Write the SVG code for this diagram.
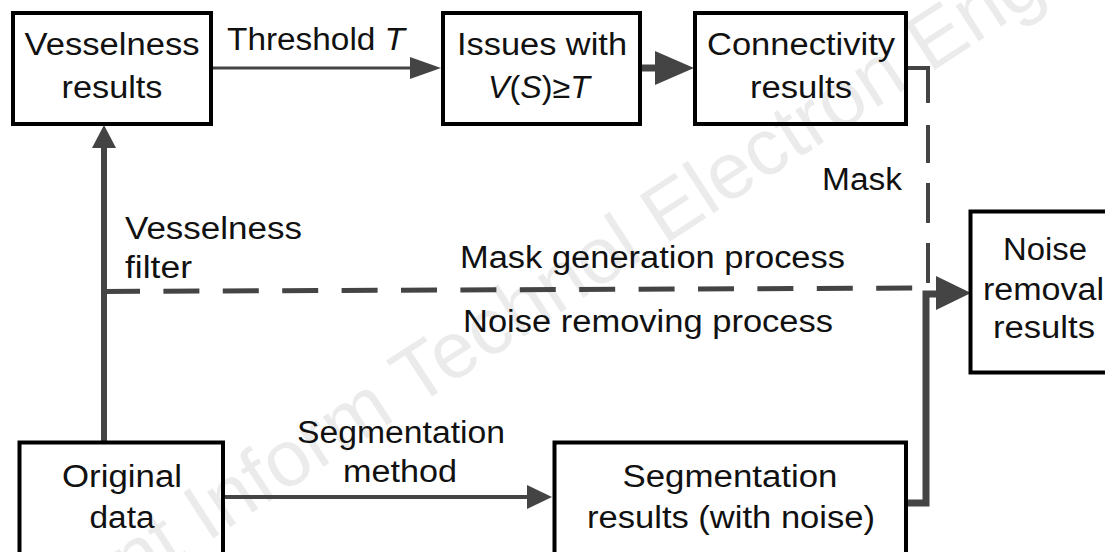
<svg xmlns="http://www.w3.org/2000/svg" width="1105" height="552" viewBox="0 0 1105 552">
<style>
.box{fill:none;stroke:#000;stroke-width:4}
.t{font-family:"Liberation Sans",Arial,sans-serif;font-size:31px;fill:#111}
.m{text-anchor:middle}
.c{fill:none;stroke:#444;stroke-linejoin:miter}
.h{fill:#444;stroke:none}
.wm{font-family:"Liberation Sans",Arial,sans-serif;font-size:80px;fill:#000;fill-opacity:0.08}
</style>
<rect width="1105" height="552" fill="#fff"/>
<text class="wm" text-anchor="middle" x="514" y="343" transform="rotate(-33 514 343)">J Front Inform Technol Electron Eng</text>
<g id="connectors">
<path class="c" d="M211,68 H414" stroke-width="3"/>
<polygon class="h" points="410,57 441,68 410,79"/>
<path class="c" d="M640,68 H660" stroke-width="7"/>
<polygon class="h" points="655,51 694,68 655,85"/>
<path class="c" d="M906,68 H928 V290" stroke-width="4" stroke-dasharray="57 22 38 20 40 20 40"/>
<path class="c" d="M104,291.5 L917,288" stroke-width="5" stroke-dasharray="36 23.4"/>
<path class="c" d="M104,442 V145" stroke-width="6"/>
<polygon class="h" points="92,148 104,125 116,148"/>
<path class="c" d="M223,497 H530" stroke-width="4"/>
<polygon class="h" points="527,485 552,497 527,509"/>
<path class="c" d="M906,503 H926 V294 H945" stroke-width="7"/>
<polygon class="h" points="936,276 971,293 936,310"/>
</g>
<g id="vesselness-results">
<rect class="box" x="13" y="13" width="198" height="111"/>
<text class="t m" x="112" y="55" textLength="175" lengthAdjust="spacingAndGlyphs">Vesselness</text>
<text class="t m" x="112" y="98" textLength="101" lengthAdjust="spacingAndGlyphs">results</text>
</g>
<g id="label-threshold">
<text class="t" x="227" y="50" textLength="178" lengthAdjust="spacingAndGlyphs">Threshold <tspan font-style="italic">T</tspan></text>
</g>
<g id="issues">
<rect class="box" x="443" y="13" width="197" height="111"/>
<text class="t m" x="542" y="55" textLength="170" lengthAdjust="spacingAndGlyphs">Issues with</text>
<text class="t m" x="539" y="98" textLength="102" lengthAdjust="spacingAndGlyphs"><tspan font-style="italic">V</tspan>(<tspan font-style="italic">S</tspan>)≥<tspan font-style="italic">T</tspan></text>
</g>
<g id="connectivity">
<rect class="box" x="695" y="13" width="211" height="111"/>
<text class="t m" x="801" y="55" textLength="188" lengthAdjust="spacingAndGlyphs">Connectivity</text>
<text class="t m" x="801" y="98" textLength="102" lengthAdjust="spacingAndGlyphs">results</text>
</g>
<g id="labels">
<text class="t" x="822" y="190" textLength="80" lengthAdjust="spacingAndGlyphs">Mask</text>
<text class="t" x="125" y="239" textLength="177" lengthAdjust="spacingAndGlyphs">Vesselness</text>
<text class="t" x="125" y="278" textLength="67" lengthAdjust="spacingAndGlyphs">filter</text>
<text class="t" x="460" y="268" textLength="385" lengthAdjust="spacingAndGlyphs">Mask generation process</text>
<text class="t" x="463" y="332" textLength="370" lengthAdjust="spacingAndGlyphs">Noise removing process</text>
<text class="t m" x="401" y="443" textLength="208" lengthAdjust="spacingAndGlyphs">Segmentation</text>
<text class="t m" x="400" y="482" textLength="114" lengthAdjust="spacingAndGlyphs">method</text>
</g>
<g id="noise-removal">
<rect class="box" x="970.5" y="211.5" width="200" height="161"/>
<text class="t m" x="1045" y="260" textLength="84" lengthAdjust="spacingAndGlyphs">Noise</text>
<text class="t" x="983" y="300" textLength="121" lengthAdjust="spacingAndGlyphs">removal</text>
<text class="t m" x="1044" y="338" textLength="102" lengthAdjust="spacingAndGlyphs">results</text>
</g>
<g id="original-data">
<rect class="box" x="19.5" y="442.5" width="203.5" height="130"/>
<text class="t m" x="122" y="487" textLength="120" lengthAdjust="spacingAndGlyphs">Original</text>
<text class="t m" x="122" y="528" textLength="65" lengthAdjust="spacingAndGlyphs">data</text>
</g>
<g id="segmentation-results">
<rect class="box" x="554.5" y="442.5" width="351.5" height="130"/>
<text class="t m" x="730" y="487" textLength="215" lengthAdjust="spacingAndGlyphs">Segmentation</text>
<text class="t m" x="731" y="528" textLength="288" lengthAdjust="spacingAndGlyphs">results (with noise)</text>
</g>
</svg>
